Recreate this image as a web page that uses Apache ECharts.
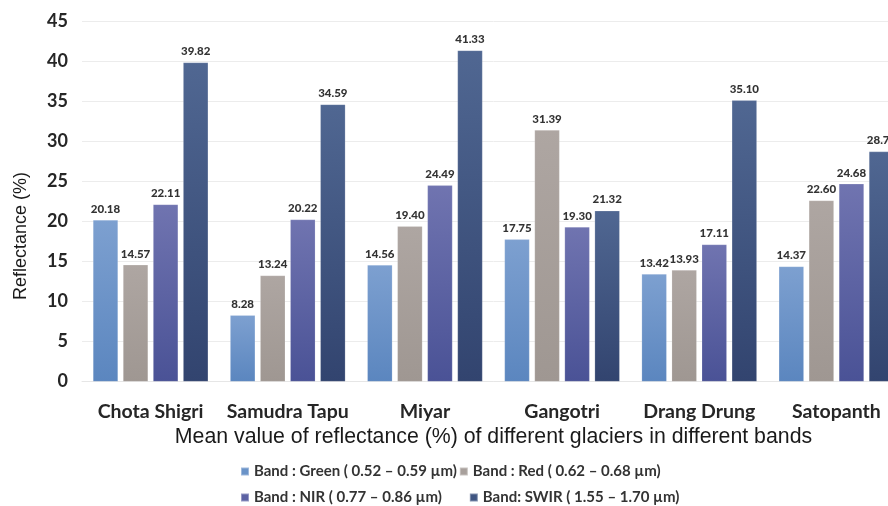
<!DOCTYPE html>
<html>
<head>
<meta charset="utf-8">
<script src="https://cdn.jsdelivr.net/npm/echarts@6/dist/echarts.min.js"></script>
<style>
  html, body { margin: 0; padding: 0; background: #fff; width: 888px; height: 506px; overflow: hidden; }
  /* the plot runs slightly past the right edge of the page */
  #chart { width: 905px; height: 506px; }
</style>
</head>
<body>
<div id="chart"></div>
<script>
// Glaciers on the category axis
const glaciers = ['Chota Shigri', 'Samudra Tapu', 'Miyar', 'Gangotri', 'Drang Drung', 'Satopanth'];

// Mean reflectance (%) per spectral band
const greenBand = [20.18, 8.28, 14.56, 17.75, 13.42, 14.37];
const redBand   = [14.57, 13.24, 19.40, 31.39, 13.93, 22.60];
const nirBand   = [22.11, 20.22, 24.49, 19.30, 17.11, 24.68];
const swirBand  = [39.82, 34.59, 41.33, 21.32, 35.10, 28.70];

const bandNames = [
  'Band : Green ( 0.52 – 0.59 µm)',
  'Band : Red ( 0.62 – 0.68 µm)',
  'Band : NIR ( 0.77 – 0.86 µm)',
  'Band: SWIR ( 1.55 – 1.70 µm)'
];

const yMin = 0, yMax = 45, yStep = 5;

const chart = echarts.init(document.getElementById('chart'));

function grad(top, bottom) {
  return new echarts.graphic.LinearGradient(0, 0, 0, 1, [
    { offset: 0, color: top },
    { offset: 1, color: bottom }
  ]);
}

const palette = [
  grad('#7da0d0', '#5b86bf'),
  grad('#aea6a2', '#9f9792'),
  grad('#7074b0', '#4a5296'),
  grad('#506792', '#32446f')
];
const legendColors = ['#6a93c8', '#a8a09c', '#5c62a4', '#3f5582'];

const labelFont = 'Lato, "Open Sans", sans-serif';

function bandSeries(name, data, i) {
  return {
    name: name,
    type: 'bar',
    data: data,
    barGap: '20%',
    barCategoryGap: '16%',
    itemStyle: { color: palette[i], borderColor: 'rgba(255,255,255,0.35)', borderWidth: 0.5 },
    label: {
      show: true,
      position: 'top',
      distance: 5,
      formatter: p => p.value.toFixed(2),
      fontFamily: labelFont,
      fontWeight: 900,
      fontSize: 11.5,
      color: '#333'
    },
    emphasis: { disabled: true }
  };
}

const legendText = {
  fontFamily: labelFont,
  fontWeight: 'bold',
  fontSize: 15,
  color: '#333'
};

chart.setOption({
  animation: false,
  color: legendColors,
  grid: { left: 82, right: 0, top: 21, bottom: 124.4, containLabel: false },
  legend: [
    {
      data: [
        { name: bandNames[0], itemStyle: { color: legendColors[0] } },
        { name: bandNames[1], itemStyle: { color: legendColors[1] } }
      ],
      left: 235, top: 459,
      icon: 'rect', itemWidth: 8, itemHeight: 8, itemGap: 2,
      textStyle: legendText
    },
    {
      data: [
        { name: bandNames[2], itemStyle: { color: legendColors[2] } },
        { name: bandNames[3], itemStyle: { color: legendColors[3] } }
      ],
      left: 235, top: 485,
      icon: 'rect', itemWidth: 8, itemHeight: 8, itemGap: 27,
      textStyle: legendText
    }
  ],
  graphic: [{
    type: 'text',
    left: 12,
    top: 172,
    rotation: Math.PI / 2,
    style: {
      text: 'Reflectance (%)',
      font: '18px "Liberation Sans", Arial, sans-serif',
      fill: '#1a1a1a'
    }
  }],
  xAxis: {
    type: 'category',
    data: glaciers,
    axisLine: { show: true, lineStyle: { color: '#e6e6e6' } },
    axisTick: { show: false },
    axisLabel: {
      interval: 0,
      margin: 20,
      fontFamily: labelFont,
      fontWeight: 'bold',
      fontSize: 19.5,
      color: '#262626'
    },
    name: 'Mean value of reflectance (%) of different glaciers in different bands',
    nameLocation: 'middle',
    nameGap: 41,
    nameTextStyle: {
      fontFamily: '"Liberation Sans", Arial, sans-serif',
      fontSize: 21.3,
      color: '#1a1a1a'
    }
  },
  yAxis: {
    type: 'value',
    min: yMin,
    max: yMax,
    interval: yStep,
    axisLine: { show: false },
    axisTick: { show: false },
    splitLine: { lineStyle: { color: '#ececec', width: 1 } },
    axisLabel: {
      margin: 14,
      fontFamily: labelFont,
      fontWeight: 'bold',
      fontSize: 18,
      color: '#262626'
    }
  },
  series: [
    bandSeries(bandNames[0], greenBand, 0),
    bandSeries(bandNames[1], redBand, 1),
    bandSeries(bandNames[2], nirBand, 2),
    bandSeries(bandNames[3], swirBand, 3)
  ]
});
</script>
</body>
</html>
